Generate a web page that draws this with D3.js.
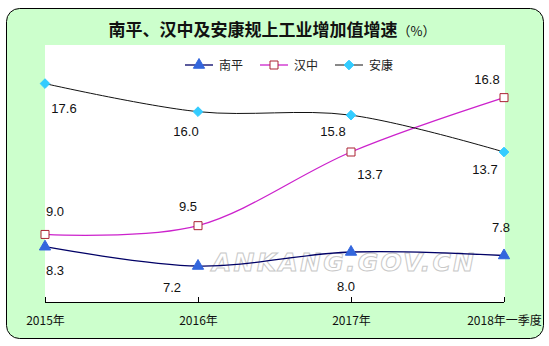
<!DOCTYPE html>
<html>
<head>
<meta charset="utf-8">
<script src="https://cdn.jsdelivr.net/npm/d3@7"></script>
<style>
  body { margin: 0; background: #fff; }
  svg { display: block; }
</style>
</head>
<body>
<script>
// data
const categories = ["2015年", "2016年", "2017年", "2018年一季度"];
const nanping = [8.3, 7.2, 8.0, 7.8];
const hanzhong = [9.0, 9.5, 13.7, 16.8];
const ankang = [17.6, 16.0, 15.8, 13.7];
const seriesNames = ["南平", "汉中", "安康"];
const yDomain = [5, 20];

const width = 549, height = 346;
const plot = { left: 45, right: 505, top: 45, bottom: 302 };
const numFont = "'Liberation Sans', Arial, sans-serif";
const cjkFont = "'Noto Sans CJK SC', 'Noto Sans', sans-serif";

const svg = d3.select("body").append("svg")
    .attr("width", width)
    .attr("height", height);

// green rounded frame
svg.append("rect")
    .attr("x", 6.5).attr("y", 8.5)
    .attr("width", 537).attr("height", 330)
    .attr("rx", 13)
    .attr("fill", "#ccffcc")
    .attr("stroke", "#000")
    .attr("stroke-width", 1);

// white plot area
svg.append("rect")
    .attr("x", plot.left).attr("y", plot.top)
    .attr("width", plot.right - plot.left)
    .attr("height", plot.bottom - plot.top)
    .attr("fill", "#fff");

// title
const title = svg.append("text")
    .attr("x", 272).attr("y", 36)
    .attr("text-anchor", "middle")
    .attr("font-family", cjkFont)
    .attr("fill", "#111");
title.append("tspan")
    .attr("font-size", 17)
    .attr("font-weight", "bold")
    .text("南平、汉中及安康规上工业增加值增速");
title.append("tspan")
    .attr("font-size", 13)
    .text("（%）");

const x = d3.scalePoint().domain(categories).range([45, 504]);
const y = d3.scaleLinear().domain(yDomain).range([304.6, 41.5]);

// watermark
svg.append("text")
    .attr("x", 212).attr("y", 271)
    .attr("font-family", "'DejaVu Sans', sans-serif")
    .attr("font-weight", "bold")
    .attr("font-style", "italic")
    .attr("font-size", 25)
    .attr("textLength", 262)
    .attr("lengthAdjust", "spacing")
    .attr("fill", "#fff")
    .attr("stroke", "#c8c8c8")
    .attr("stroke-width", 1)
    .text("ANKANG.GOV.CN");

// x axis
const xAxis = svg.append("g")
    .attr("transform", `translate(0,${plot.bottom})`)
    .call(d3.axisBottom(x).tickSizeInner(-5).tickSizeOuter(0).tickPadding(14));
xAxis.select(".domain").attr("stroke", "#000").attr("d", `M${x(categories[0])},0.5H${x(categories[3])}`);
xAxis.selectAll(".tick line").attr("stroke", "#000");
xAxis.selectAll(".tick text")
    .attr("font-family", cjkFont)
    .attr("font-size", 12)
    .attr("fill", "#111");

const triangle = d3.symbol().type(d3.symbolTriangle).size(55);
const square = d3.symbol().type(d3.symbolSquare).size(64);
const diamond = d3.symbol().type(d3.symbolDiamond2).size(60);

const series = [
  { name: seriesNames[0], values: nanping, line: "#000066", width: 1.3,
    symbol: triangle, fill: "#3366dd", stroke: "#3366dd",
    offsets: [[10, 28], [-26, 26], [-5, 39], [-3, -23]] },
  { name: seriesNames[1], values: hanzhong, line: "#cc22cc", width: 1.3,
    symbol: square, fill: "#fff", stroke: "#aa2233",
    offsets: [[10, -18], [-10, -15], [19, 27], [-17, -14]] },
  { name: seriesNames[2], values: ankang, line: "#111", width: 1,
    symbol: diamond, fill: "#33ccff", stroke: "#33ccff",
    offsets: [[19, 29], [-12, 24], [-18, 21], [-19, 22]] }
];

const line = d3.line()
    .x((d, i) => x(categories[i]))
    .y(d => y(d))
    .curve(d3.curveCardinal.tension(0));

series.forEach(s => {
  svg.append("path")
      .attr("d", line(s.values))
      .attr("fill", "none")
      .attr("stroke", s.line)
      .attr("stroke-width", s.width);
});

series.forEach(s => {
  svg.append("g").selectAll("path")
    .data(s.values)
    .join("path")
      .attr("transform", (d, i) => `translate(${x(categories[i])},${y(d)})`)
      .attr("d", s.symbol)
      .attr("fill", s.fill)
      .attr("stroke", s.stroke)
      .attr("stroke-width", 1);

  svg.append("g").selectAll("text")
    .data(s.values)
    .join("text")
      .attr("x", (d, i) => x(categories[i]) + s.offsets[i][0])
      .attr("y", (d, i) => y(d) + s.offsets[i][1])
      .attr("text-anchor", "middle")
      .attr("font-family", numFont)
      .attr("font-size", 13)
      .attr("fill", "#111")
      .text(d => d.toFixed(1));
});

// legend
const legendX = [185, 260, 335];
const legend = svg.append("g").attr("transform", "translate(0,65)");
series.forEach((s, i) => {
  const g = legend.append("g").attr("transform", `translate(${legendX[i]},0)`);
  g.append("line")
      .attr("x1", 0).attr("x2", 28)
      .attr("stroke", s.line)
      .attr("stroke-width", s.width);
  g.append("path")
      .attr("transform", "translate(14,0)")
      .attr("d", s.symbol)
      .attr("fill", s.fill)
      .attr("stroke", s.stroke);
  g.append("text")
      .attr("x", 34).attr("y", 4.5)
      .attr("font-family", cjkFont)
      .attr("font-size", 12)
      .attr("fill", "#222")
      .text(s.name);
});
</script>
</body>
</html>
